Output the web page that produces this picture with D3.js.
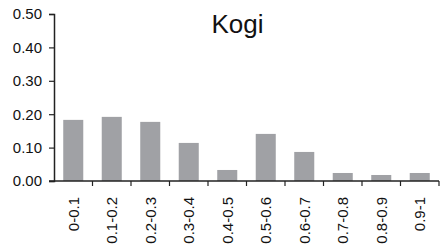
<!DOCTYPE html>
<html>
<head>
<meta charset="utf-8">
<script src="https://cdn.jsdelivr.net/npm/d3@7"></script>
<style>
  body { margin: 0; background: #fff; }
  svg { display: block; font-family: 'Liberation Sans', Arial, sans-serif; }
</style>
</head>
<body>
<div id="chart"></div>
<script>
var categories = ['0-0.1', '0.1-0.2', '0.2-0.3', '0.3-0.4', '0.4-0.5',
                  '0.5-0.6', '0.6-0.7', '0.7-0.8', '0.8-0.9', '0.9-1'];
var values = [0.183, 0.192, 0.177, 0.114, 0.033, 0.141, 0.087, 0.024, 0.018, 0.024];
var yTicks = [0, 0.1, 0.2, 0.3, 0.4, 0.5];
var title = 'Kogi';

var width = 440, height = 244;
var margin = {top: 14, right: 1, bottom: 63, left: 54};

var svg = d3.select('#chart').append('svg')
    .attr('width', width)
    .attr('height', height);

var x = d3.scaleBand()
    .domain(categories)
    .range([margin.left, width - margin.right])
    .paddingInner(0.48)
    .paddingOuter(0.24);

var y = d3.scaleLinear()
    .domain([0, 0.5])
    .range([height - margin.bottom, margin.top]);

/* bars */
svg.append('g')
    .selectAll('rect')
    .data(values)
    .enter().append('rect')
    .attr('x', function (d, i) { return x(categories[i]); })
    .attr('y', function (d) { return y(d); })
    .attr('width', x.bandwidth())
    .attr('height', function (d) { return y(0) - y(d); })
    .attr('fill', '#a0a1a5');

/* y axis */
var yAxis = svg.append('g')
    .attr('transform', 'translate(' + margin.left + ',0)')
    .call(d3.axisLeft(y).tickValues(yTicks).tickFormat(d3.format('.2f')).tickSizeOuter(0).tickSize(5));

/* x axis: ticks on band boundaries */
var xAxis = svg.append('g')
    .attr('transform', 'translate(0,' + y(0) + ')');

xAxis.append('line')
    .attr('x1', margin.left - 5)
    .attr('x2', width - margin.right)
    .attr('stroke', '#222')
    .attr('stroke-width', 1.5);

var step = x.step();
xAxis.selectAll('.sep')
    .data(categories)
    .enter().append('line')
    .attr('class', 'sep')
    .attr('x1', function (d) { return x(d) - step * x.paddingInner() / 2 + step; })
    .attr('x2', function (d) { return x(d) - step * x.paddingInner() / 2 + step; })
    .attr('y1', 0)
    .attr('y2', 5)
    .attr('stroke', '#222')
    .attr('stroke-width', 1.2);

xAxis.selectAll('.lbl')
    .data(categories)
    .enter().append('text')
    .attr('class', 'lbl')
    .attr('transform', function (d) {
        return 'translate(' + (x(d) + x.bandwidth() / 2) + ',16) rotate(-90)';
    })
    .attr('dy', '0.35em')
    .attr('text-anchor', 'end')
    .attr('font-size', 15)
    .attr('fill', '#111')
    .text(function (d) { return d; });

yAxis.select('.domain').attr('stroke', '#222').attr('stroke-width', 1.5);
yAxis.selectAll('.tick line').attr('stroke', '#222').attr('stroke-width', 1.2);
yAxis.selectAll('.tick text')
    .attr('font-size', 15)
    .attr('fill', '#111')
    .attr('font-family', "'Liberation Sans', Arial, sans-serif")
    .attr('x', -12);

/* title */
svg.append('text')
    .attr('x', 237.5)
    .attr('y', 33)
    .attr('text-anchor', 'middle')
    .attr('font-size', 26)
    .attr('fill', '#111')
    .text(title);
</script>
</body>
</html>
